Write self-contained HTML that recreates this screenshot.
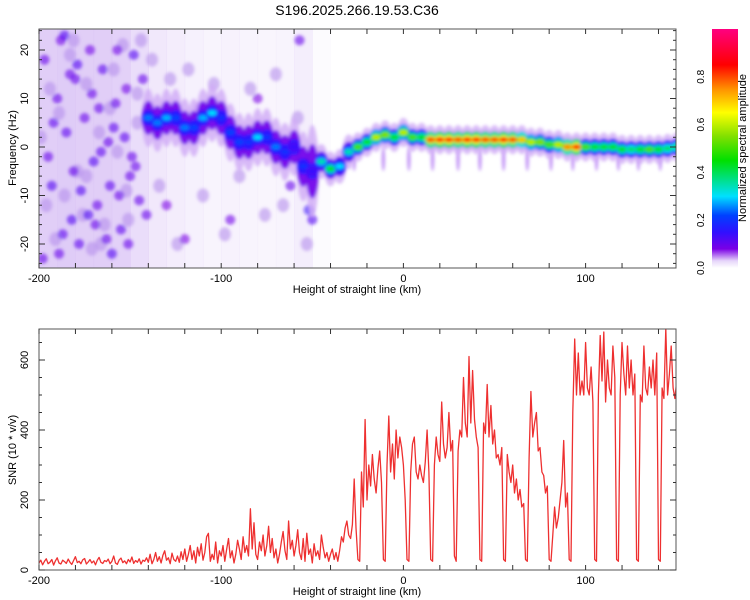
<!DOCTYPE html>
<html><head><meta charset="utf-8"><style>
html,body{margin:0;padding:0;background:#fff;}
svg{display:block;font-family:"Liberation Sans",sans-serif;}
</style></head><body>
<svg id="c" width="750" height="600" viewBox="0 0 750 600">
<defs>
<clipPath id="topclip"><rect x="39" y="29" width="637" height="239"/></clipPath>
<clipPath id="botclip"><rect x="39" y="329" width="637" height="241"/></clipPath>
<linearGradient id="cbg" x1="0" y1="1" x2="0" y2="0">
<stop offset="0" stop-color="#ffffff"/><stop offset="0.03" stop-color="#e6d5fa"/>
<stop offset="0.08" stop-color="#7a00e6"/><stop offset="0.15" stop-color="#3010ff"/>
<stop offset="0.22" stop-color="#0040ff"/><stop offset="0.3" stop-color="#00e0ff"/>
<stop offset="0.45" stop-color="#00e000"/><stop offset="0.55" stop-color="#80e000"/>
<stop offset="0.65" stop-color="#ffff00"/><stop offset="0.75" stop-color="#ff9000"/>
<stop offset="0.85" stop-color="#ff0000"/><stop offset="1" stop-color="#ff0080"/>
</linearGradient>
<filter id="blur" x="-50%" y="-50%" width="200%" height="200%"><feGaussianBlur stdDeviation="1.5"/></filter>
</defs>
<text x="357" y="15" font-size="14" text-anchor="middle" fill="#000">S196.2025.266.19.53.C36</text>
<g id="top"></g>
<g id="bot"></g>
<g id="cbar"></g>
</svg>
<script>
// ---- data ----
const ridgeKm = [-140,-135,-130,-125,-120,-115,-110,-105,-100,-95,-90,-85,-80,-75,-70,-65,-60,-55,-50,-45,-40,-35,-30,-25,-20,-15,-10,-5,0,5,10,15,20,25,30,35,40,45,50,55,60,65,70,75,80,85,90,95,100,105,110,115,120,125,130,135,140,145,150];
const ridgeFreq = [6,5,6,6,4,4,6,7,6,3,1,1,2,2,0,-1,0,-4,-5,-3,-4.5,-4,-1,0,1,2,2.5,2,3,2,2,1.5,1.5,1.5,1.5,1.5,1.5,1.5,1.5,1.5,1.5,1.5,1,1,0.5,0.5,0,0,0,0,0,0,-0.5,-0.5,-0.5,-0.5,-0.5,-0.3,0];
const ridgeAmp = [0.25,0.25,0.28,0.22,0.25,0.22,0.28,0.3,0.2,0.22,0.22,0.2,0.3,0.2,0.25,0.2,0.15,0.2,0.15,0.35,0.45,0.3,0.35,0.5,0.45,0.6,0.55,0.45,0.6,0.5,0.45,0.8,0.85,0.85,0.8,0.85,0.85,0.8,0.8,0.85,0.8,0.7,0.6,0.55,0.5,0.6,0.75,0.85,0.5,0.45,0.45,0.45,0.45,0.4,0.45,0.5,0.45,0.4,0.4];
const ridgeSpread = [5,5,5,5,5,5,5,5,5,5,5,5,5,5,5,5,5,6,8,3,3,3,3,2.5,2.5,2.5,2.5,2.5,2.5,2.5,2.5,2.5,2.5,2.5,2.5,2.5,2.5,2.5,2.5,2.5,2.5,2.5,2.5,2.5,2.5,2.5,2.5,2.5,2.5,2.5,2.5,2.5,2.5,2.5,2.5,2.5,2.5,2.5,2.5];
const noiseKm = [-195,-185,-175,-165,-155,-145,-135,-125,-115,-105,-95,-85,-75,-65,-55,-45];
const noiseLevel = [0.85,0.9,0.85,0.85,0.8,0.6,0.4,0.32,0.25,0.2,0.22,0.2,0.18,0.2,0.3,0.08];
const blobKm = [-197,-193,-190,-188,-185,-182,-180,-178,-175,-172,-170,-168,-165,-162,-160,-158,-155,-152,-150,-148,-145,-195,-187,-177,-167,-157,-147,-192,-183,-173,-163,-153,-143,-198,-186,-171,-161,-151,-141,-189,-179,-169,-159,-149,-130,-120,-112,-95,-80,-62,-57,-52,-50,-181,-166,-156];
const blobFreq = [18,-8,10,22,3,-15,14,-20,6,20,-3,-12,16,1,-22,9,-17,12,-6,19,-11,-2,-18,-9,8,20,-4,5,15,-14,-19,2,14,-23,23,11,-8,-20,-14,-22,17,-16,4,-2,-12,-19,8,-15,10,-8,22,-13,-15,-5,-1,-10];
const blobAmp = [0.1,0.12,0.1,0.09,0.11,0.12,0.1,0.11,0.1,0.09,0.12,0.1,0.11,0.1,0.12,0.1,0.11,0.09,0.1,0.12,0.1,0.1,0.11,0.12,0.1,0.09,0.1,0.11,0.1,0.12,0.1,0.11,0.1,0.1,0.12,0.1,0.11,0.1,0.1,0.1,0.12,0.1,0.11,0.1,0.08,0.08,0.08,0.09,0.08,0.1,0.1,0.14,0.12,0.1,0.11,0.1];
const blob2Km = [-199,-194,-191,-186,-183,-179,-176,-174,-171,-167,-164,-161,-157,-154,-151,-146,-144,-196,-189,-181,-174,-166,-159,-152,-146,-138,-134,-128,-124,-118,-110,-104,-98,-90,-84,-76,-70,-66,-58,-53];
const blob2Freq = [2,12,-19,-10,19,-5,-14,13,-21,3,-16,8,-1,21,-15,5,22,-12,7,22,-6,-20,16,-9,11,18,-8,14,-20,16,-10,13,-18,-6,12,-14,15,-12,6,-20];
const streakKm = [-27,-11,3,16,30,42,55,68,81,93,106,118,129,141];
const snrStart = -200;
const snrValues = [
20,28,15,25,32,18,22,30,14,26,35,20,17,28,24,19,31,22,16,27,38,21,25,18,29,33,17,23,30,20,26,15,28,36,22,19,27,24,31,18,25,40,20,16,29,34,21,26,18,30,23,37,19,27,22,32,17,28,25,35,
22,45,18,30,50,25,38,20,42,55,28,35,18,48,30,25,40,22,52,30,
60,25,45,70,30,55,20,65,40,75,28,50,95,105,25,45,30,80,20,55,
40,70,25,60,90,35,55,20,45,85,60,30,95,50,70,40,175,60,135,45,
30,80,55,100,40,70,125,50,90,35,60,20,45,80,110,55,30,140,60,85,
40,70,115,50,30,90,25,105,45,60,20,75,40,55,30,100,65,35,50,25,
45,60,30,50,25,55,95,80,120,140,100,90,130,260,120,30,25,280,180,430,
200,300,240,330,260,220,290,340,250,30,25,300,440,280,360,260,400,320,380,350,
300,200,30,25,280,360,380,280,260,300,270,250,310,400,280,30,25,300,380,330,
310,480,360,320,350,450,340,370,40,25,340,400,380,550,420,380,610,420,570,430,
380,350,30,25,420,390,530,380,470,360,400,320,330,300,350,30,25,330,280,250,
300,220,260,200,230,180,190,30,25,320,510,380,420,450,340,350,280,270,220,240,
30,25,100,180,120,150,200,250,370,180,220,30,25,450,660,500,620,500,540,500,
650,520,500,580,480,30,25,500,670,540,680,480,600,520,500,640,550,30,25,500,
650,560,500,640,520,600,500,560,30,25,500,480,640,520,500,580,520,600,500,620,
30,25,520,490,690,500,560,640,520,490,540];
const xTickVals = [-200,-100,0,100];
const freqTicks = [-20,-10,0,10,20];
const snrTicks = [0,200,400,600];
const cbTicks = [0.0,0.2,0.4,0.6,0.8];

// ---- scales ----
const NS='http://www.w3.org/2000/svg';
const xS = km => 39 + (km+200)*1.822;
const yF = f => 147 - f*4.85;
const yS = v => 570 - v*0.35;
const cbY = v => 268 - v*239;
const stops=[[0,[255,255,255]],[0.03,[230,213,250]],[0.08,[122,0,230]],[0.15,[48,16,255]],[0.22,[0,64,255]],[0.3,[0,224,255]],[0.45,[0,224,0]],[0.55,[128,224,0]],[0.65,[255,255,0]],[0.75,[255,144,0]],[0.85,[255,0,0]],[1,[255,0,128]]];
function cmap(v){v=Math.max(0,Math.min(1,v));for(let i=1;i<stops.length;i++){if(v<=stops[i][0]){const a=stops[i-1],b=stops[i];const t=(v-a[0])/(b[0]-a[0]);const c=a[1].map((x,k)=>Math.round(x+(b[1][k]-x)*t));return 'rgb('+c.join(',')+')';}}return 'rgb(255,0,128)';}
function mk(tag,attrs,parent){const e=document.createElementNS(NS,tag);for(const k in attrs)e.setAttribute(k,attrs[k]);parent.appendChild(e);return e;}

// ---- top panel ----
const topPanel=document.getElementById('top');
const tg=mk('g',{'clip-path':'url(#topclip)'},topPanel);
noiseKm.forEach((k,i)=>{
  const r=mk('rect',{x:xS(k-5),y:29,width:xS(k+5)-xS(k-5)+0.5,height:239,fill:'#dcc6f6',opacity:noiseLevel[i]},tg);
  
  
});
const bg=mk('g',{filter:'url(#blur)'},tg);
blob2Km.forEach((k,i)=>{
  const e=mk('ellipse',{cx:xS(k),cy:yF(blob2Freq[i]),rx:6,ry:7,fill:'#b690ec',opacity:0.6},bg);
  
  
});
blobKm.forEach((k,i)=>{
  const e=mk('ellipse',{cx:xS(k),cy:yF(blobFreq[i]),rx:5,ry:5,fill:cmap(blobAmp[i]),opacity:0.6},bg);
  
  
});
streakKm.forEach(k=>{
  const e=mk('ellipse',{cx:xS(k),cy:yF(-2.5),rx:1.8,ry:12,fill:cmap(0.09),opacity:0.4},bg);
  
  
});
const rg=mk('g',{filter:'url(#blur)'},tg);
const layers=[[1.2,0.04,0.8],[0.7,0.09,0.9]];
layers.forEach(L=>{
  ridgeKm.forEach((k,i)=>{
    const e=mk('ellipse',{cx:xS(k),cy:yF(ridgeFreq[i]),rx:6.5,ry:ridgeSpread[i]*L[0]*4.85,fill:cmap(L[1]),opacity:L[2]},rg);
    
    
  });
});
ridgeKm.forEach((k,i)=>{
  const e=mk('ellipse',{cx:xS(k),cy:yF(ridgeFreq[i]),rx:6.5,ry:8,fill:cmap(Math.max(0.16,ridgeAmp[i]*0.45))},rg);
  
  
});
ridgeKm.forEach((k,i)=>{
  const e=mk('ellipse',{cx:xS(k),cy:yF(ridgeFreq[i]),rx:5.5,ry:4.5,fill:cmap(ridgeAmp[i]*0.75)},rg);
  
  
});
ridgeKm.forEach((k,i)=>{
  const e=mk('ellipse',{cx:xS(k),cy:yF(ridgeFreq[i]),rx:4.5,ry:2.5,fill:cmap(ridgeAmp[i])},rg);
  
  
});

function frame(parent,y0,y1,name){
  const r=mk('rect',{x:39,y:y0,width:637,height:y1-y0,fill:'none',stroke:'#555','stroke-width':1},parent);
  
  
  for(let k=-200;k<=150;k+=20){const x=xS(k);mk('line',{x1:x,y1:y0,x2:x,y2:y0+5,stroke:'#333'},parent);mk('line',{x1:x,y1:y1,x2:x,y2:y1-5,stroke:'#333'},parent);}
  xTickVals.forEach(v=>{
    const t=mk('text',{x:xS(v),y:y1+14,'font-size':11,'text-anchor':'middle'},parent);t.textContent=v;
    
    
  });
  const xl=mk('text',{x:357,y:y1+25,'font-size':11,'text-anchor':'middle'},parent);xl.textContent='Height of straight line (km)';
  
  
}
frame(topPanel,29,268,'spectrogram-frame');
for(let f=-24;f<=24;f+=2){const y=yF(f);mk('line',{x1:39,y1:y,x2:f%10===0?45:42,y2:y,stroke:'#333'},topPanel);mk('line',{x1:676,y1:y,x2:f%10===0?670:673,y2:y,stroke:'#333'},topPanel);}
freqTicks.forEach(v=>{
  const t=mk('text',{x:0,y:0,'font-size':11,'text-anchor':'middle',transform:`translate(28,${yF(v)}) rotate(-90)`},topPanel);t.textContent=v;
  
  
});
const yl=mk('text',{x:0,y:0,'font-size':11,'text-anchor':'middle',transform:'translate(16,148) rotate(-90)'},topPanel);yl.textContent='Frequency (Hz)';



// ---- bottom panel ----
const botPanel=document.getElementById('bot');
const bgp=mk('g',{'clip-path':'url(#botclip)'},botPanel);
let d='';
snrValues.forEach((v,i)=>{d+=(i?'L':'M')+xS(snrStart+i).toFixed(1)+','+yS(v).toFixed(1);});
const line=mk('path',{d:d,fill:'none',stroke:'#ee3030','stroke-width':1.3,'stroke-linejoin':'round'},bgp);


frame(botPanel,329,570,'snr-frame');
for(let v=0;v<=680;v+=50){const y=yS(v);mk('line',{x1:39,y1:y,x2:v%200===0?45:42,y2:y,stroke:'#333'},botPanel);mk('line',{x1:676,y1:y,x2:v%200===0?670:673,y2:y,stroke:'#333'},botPanel);}
snrTicks.forEach(v=>{
  const t=mk('text',{x:0,y:0,'font-size':11,'text-anchor':'middle',transform:`translate(28,${yS(v)}) rotate(-90)`},botPanel);t.textContent=v;
  
  
});
const yl2=mk('text',{x:0,y:0,'font-size':11,'text-anchor':'middle',transform:'translate(16,450) rotate(-90)'},botPanel);yl2.textContent='SNR (10 * v/v)';



// ---- colorbar ----
const cbPanel=document.getElementById('cbar');
const cr=mk('rect',{x:712,y:29,width:26,height:239,fill:'url(#cbg)'},cbPanel);


cbTicks.forEach(v=>{
  const t=mk('text',{x:0,y:0,'font-size':10,'text-anchor':'middle',transform:`translate(704,${cbY(v)}) rotate(-90)`},cbPanel);t.textContent=v.toFixed(1);
  
  
});
const cl=mk('text',{x:0,y:0,'font-size':11,'text-anchor':'middle',transform:'translate(746,148) rotate(-90)'},cbPanel);cl.textContent='Normalized spectral amplitude';


</script>
</body></html>
